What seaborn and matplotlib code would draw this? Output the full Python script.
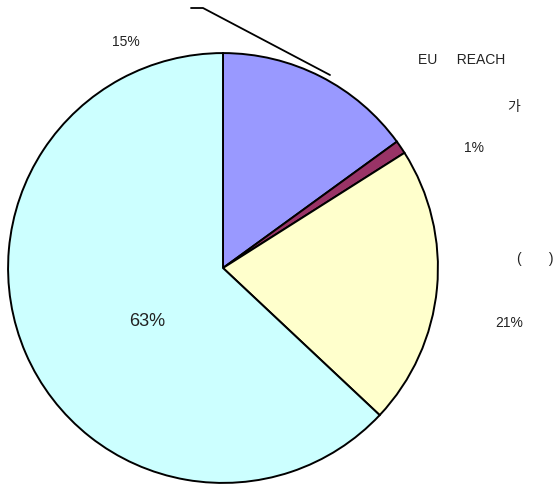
import matplotlib
matplotlib.use("Agg")
import matplotlib.pyplot as plt
import seaborn as sns

# slice data, clockwise from 12 o'clock
shares = [15, 1, 21, 63]
share_labels = ["15%", "1%", "21%", "63%"]
colors = ["#9999FF", "#993366", "#FFFFCC", "#CCFFFF"]

# label positions in figure pixels (x, y from top)
label_pos = [(126, 42), (474, 148), (509, 323), (147, 321)]
label_size = [10, 10, 10, 13]

# other text fragments on the chart
notes = ["EU     REACH", "가", "(       )"]
note_pos = [(462, 60), (514, 107), (535, 259)]

W, H = 556, 491
cx, cy, r = 223, 268, 216


def main():
    sns.set_style("white")
    plt.rcParams['font.family'] = ['Liberation Sans', 'Noto Sans CJK KR']

    fig = plt.figure(figsize=(W / 100, H / 100), dpi=100)
    ax = fig.add_axes([(cx - r) / W, (H - cy - r) / H, 2 * r / W, 2 * r / H])
    ax.pie(shares, colors=colors, startangle=90, counterclock=False,
           wedgeprops=dict(edgecolor="black", linewidth=1.4))
    ax.set_xlim(-1.005, 1.005)
    ax.set_ylim(-1.005, 1.005)
    ax.axis("off")

    for txt, (x, y), s in zip(share_labels, label_pos, label_size):
        fig.text(x / W, 1 - y / H, txt, fontsize=s, ha="center", va="center",
                 color="#222222")
    for txt, (x, y) in zip(notes, note_pos):
        fig.text(x / W, 1 - y / H, txt, fontsize=10, ha="center", va="center",
                 color="#222222")

    # leader line from the 15% label area down to the pie edge
    xs = [191, 203, 330]
    ys = [8, 8, 75]
    fig.add_artist(plt.Line2D([x / W for x in xs], [1 - y / H for y in ys],
                              color="black", linewidth=1.3))

    fig.savefig("out.png", dpi=100)


if __name__ == '__main__':
    main()
